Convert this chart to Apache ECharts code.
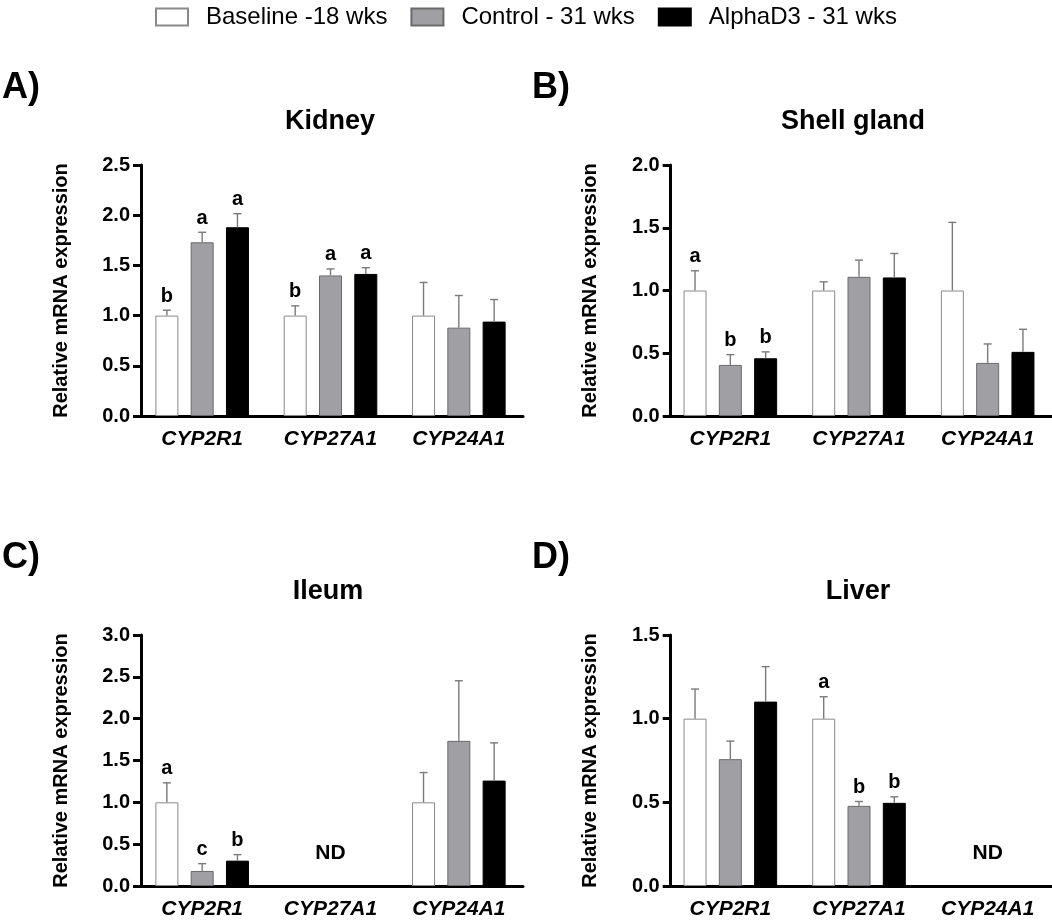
<!DOCTYPE html>
<html>
<head>
<meta charset="utf-8">
<script src="https://cdn.jsdelivr.net/npm/echarts@6/dist/echarts.min.js"></script>
<style>
html,body{margin:0;padding:0;background:#fff;}
#chart{width:1052px;height:920px;}
</style>
</head>
<body>
<div id="chart"></div>
<script>
// ---------- data ----------
const categories = ['CYP2R1', 'CYP27A1', 'CYP24A1'];
const seriesNames = ['Baseline -18 wks', 'Control - 31 wks', 'AlphaD3 - 31 wks'];

// Kidney
const kidneyBaseline = [1.00, 1.00, 1.00];
const kidneyBaselineSem = [0.054, 0.097, 0.33];
const kidneyControl = [1.73, 1.40, 0.88];
const kidneyControlSem = [0.10, 0.065, 0.32];
const kidneyAlpha = [1.88, 1.415, 0.94];
const kidneyAlphaSem = [0.135, 0.062, 0.22];
const kidneyLetters = [['b', 'b', ''], ['a', 'a', ''], ['a', 'a', '']];

// Shell gland
const shellBaseline = [1.00, 1.00, 1.00];
const shellBaselineSem = [0.157, 0.069, 0.543];
const shellControl = [0.407, 1.109, 0.423];
const shellControlSem = [0.082, 0.133, 0.151];
const shellAlpha = [0.46, 1.104, 0.511];
const shellAlphaSem = [0.051, 0.191, 0.18];
const shellLetters = [['a', '', ''], ['b', '', ''], ['b', '', '']];

// Ileum
const ileumBaseline = [1.00, null, 1.00];
const ileumBaselineSem = [0.233, null, 0.356];
const ileumControl = [0.18, null, 1.735];
const ileumControlSem = [0.087, null, 0.718];
const ileumAlpha = [0.303, null, 1.26];
const ileumAlphaSem = [0.072, null, 0.451];
const ileumLetters = [['a', '', ''], ['c', '', ''], ['b', '', '']];
const ileumND = ['CYP27A1'];

// Liver
const liverBaseline = [1.00, 1.00, null];
const liverBaselineSem = [0.177, 0.131, null];
const liverControl = [0.758, 0.479, null];
const liverControlSem = [0.108, 0.026, null];
const liverAlpha = [1.102, 0.497, null];
const liverAlphaSem = [0.209, 0.036, null];
const liverLetters = [['', 'a', ''], ['', 'b', ''], ['', 'b', '']];
const liverND = ['CYP24A1'];

// y-axis tick settings
const yMaxKidney = 2.5, yMaxShell = 2.0, yMaxIleum = 3.0, yMaxLiver = 1.5;
const yInterval = 0.5;

// ---------- styling / layout ----------
const FONT = '"Liberation Sans", Arial, Helvetica, sans-serif';
const BAR_W = 23;
const BAR_GAP = 12.3;
const barStyles = [
  {color: '#ffffff', borderColor: '#8a8a8a', borderWidth: 1},
  {color: '#a0a0a4', borderColor: '#6a6a6a', borderWidth: 1},
  {color: '#000000', borderColor: '#000000', borderWidth: 1}
];

const panels = [
  {title: 'Kidney', tag: 'A)', grid: {left: 138, top: 165, width: 385, height: 251}, yOff: -3, max: yMaxKidney,
   means: [kidneyBaseline, kidneyControl, kidneyAlpha], sems: [kidneyBaselineSem, kidneyControlSem, kidneyAlphaSem],
   letters: kidneyLetters, nd: [], titleX: 330, titleY: 122, tagX: 2, tagY: 90},
  {title: 'Shell gland', tag: 'B)', grid: {left: 666, top: 165, width: 386, height: 251}, yOff: -4.7, max: yMaxShell,
   means: [shellBaseline, shellControl, shellAlpha], sems: [shellBaselineSem, shellControlSem, shellAlphaSem],
   letters: shellLetters, nd: [], titleX: 853, titleY: 122, tagX: 532, tagY: 90},
  {title: 'Ileum', tag: 'C)', grid: {left: 138, top: 635, width: 385, height: 251}, yOff: -3, max: yMaxIleum,
   means: [ileumBaseline, ileumControl, ileumAlpha], sems: [ileumBaselineSem, ileumControlSem, ileumAlphaSem],
   letters: ileumLetters, nd: ileumND, titleX: 328, titleY: 592, tagX: 2, tagY: 560},
  {title: 'Liver', tag: 'D)', grid: {left: 666, top: 635, width: 386, height: 251}, yOff: -4.7, max: yMaxLiver,
   means: [liverBaseline, liverControl, liverAlpha], sems: [liverBaselineSem, liverControlSem, liverAlphaSem],
   letters: liverLetters, nd: liverND, titleX: 858, titleY: 592, tagX: 532, tagY: 560}
];

const grids = [], xAxes = [], yAxes = [], series = [], graphics = [];

panels.forEach((p, pi) => {
  grids.push(Object.assign({containLabel: false}, p.grid));
  xAxes.push({
    type: 'category', gridIndex: pi, data: categories,
    axisLine: {lineStyle: {color: '#000', width: 3}},
    axisTick: {alignWithLabel: true, length: 9, lineStyle: {color: '#000', width: 3}},
    axisLabel: {color: '#000', fontFamily: FONT, fontSize: 21, fontWeight: 'bold', fontStyle: 'italic', margin: 13}
  });
  yAxes.push({
    type: 'value', gridIndex: pi, min: 0, max: p.max, interval: yInterval, offset: p.yOff,
    name: 'Relative mRNA expression', nameLocation: 'middle', nameGap: 70,
    nameTextStyle: {color: '#000', fontFamily: FONT, fontSize: 20, fontWeight: 'bold'},
    axisLine: {show: true, lineStyle: {color: '#000', width: 3}},
    axisTick: {show: true, length: 8, lineStyle: {color: '#000', width: 3}},
    axisLabel: {color: '#000', fontFamily: FONT, fontSize: 20, fontWeight: 'bold', margin: 11,
      formatter: v => v.toFixed(1)},
    splitLine: {show: false}
  });

  p.means.forEach((arr, gi) => {
    series.push({
      type: 'bar', name: seriesNames[gi], xAxisIndex: pi, yAxisIndex: pi,
      data: arr, barWidth: BAR_W, barGap: (BAR_GAP / BAR_W * 100) + '%',
      itemStyle: barStyles[gi], z: 2
    });
  });

  p.means.forEach((arr, gi) => {
    const semArr = p.sems[gi];
    const letArr = p.letters[gi];
    series.push({
      type: 'custom', xAxisIndex: pi, yAxisIndex: pi, z: 5, silent: true,
      data: arr.map((v, i) => [i, v == null ? 0 : v]),
      encode: {x: 0, y: 1},
      renderItem: function (params, api) {
        const i = params.dataIndex;
        const mean = arr[i];
        if (mean == null) return null;
        const top = mean + semArr[i];
        const off = (gi - 1) * (BAR_W + BAR_GAP);
        const base = api.coord([i, mean]);
        const tp = api.coord([i, top]);
        const x = base[0] + off;
        const children = [
          {type: 'line', shape: {x1: x, y1: base[1], x2: x, y2: tp[1]},
           style: {stroke: '#7a7a7a', lineWidth: 1.4}},
          {type: 'line', shape: {x1: x - 4, y1: tp[1], x2: x + 4, y2: tp[1]},
           style: {stroke: '#7a7a7a', lineWidth: 1.4}}
        ];
        if (letArr[i]) {
          children.push({type: 'text', style: {text: letArr[i], x: x, y: tp[1] - 4,
            align: 'center', verticalAlign: 'bottom', fill: '#000',
            font: 'bold 20px ' + FONT}});
        }
        return {type: 'group', children: children};
      }
    });
  });

  if (p.nd.length) {
    series.push({
      type: 'custom', xAxisIndex: pi, yAxisIndex: pi, z: 5, silent: true,
      data: p.nd.map(c => [categories.indexOf(c), 0]),
      encode: {x: 0, y: 1},
      renderItem: function (params, api) {
        const pt = api.coord([api.value(0), 0]);
        return {type: 'text', style: {text: 'ND', x: pt[0], y: pt[1] - 33, align: 'center',
          verticalAlign: 'middle', fill: '#000', font: 'bold 21px ' + FONT}};
      }
    });
  }

  graphics.push({type: 'text', left: p.tagX, top: p.tagY - 20, style: {text: p.tag, fill: '#000',
    font: 'bold 36px ' + FONT}});
  graphics.push({type: 'text', x: p.titleX, y: p.titleY, style: {text: p.title, fill: '#000',
    font: 'bold 27px ' + FONT, align: 'center', verticalAlign: 'middle'}});
});

const option = {
  backgroundColor: '#fff',
  animation: false,
  legend: {
    data: seriesNames, left: 150, top: 0, icon: 'rect', itemWidth: 32, itemHeight: 17, itemGap: 23,
    selectedMode: false,
    textStyle: {color: '#000', fontFamily: FONT, fontSize: 24, padding: [0, 0, 0, 13]}
  },
  grid: grids,
  xAxis: xAxes,
  yAxis: yAxes,
  series: series,
  graphic: graphics
};

const chart = echarts.init(document.getElementById('chart'), null, {renderer: 'canvas'});
chart.setOption(option);
</script>
</body>
</html>
